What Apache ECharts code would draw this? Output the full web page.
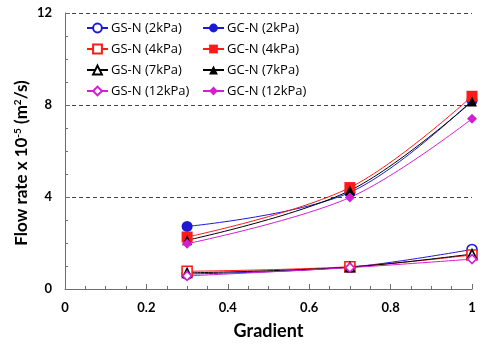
<!DOCTYPE html>
<html>
<head>
<meta charset="utf-8">
<script src="https://cdn.jsdelivr.net/npm/echarts@6/dist/echarts.min.js"></script>
<style>
  html, body { margin: 0; padding: 0; background: #fff; }
  #chart { width: 480px; height: 345px; }
</style>
</head>
<body>
<div id="chart"></div>
<script>
// Hydraulic gradient values
const gradients = [0.3, 0.7, 1.0];

// Flow rate (x10^-5 m^2/s), GS-N specimens
const gsN2 = [0.65, 0.95, 1.72];
const gsN4 = [0.77, 0.97, 1.48];
const gsN7 = [0.70, 0.95, 1.52];
const gsN12 = [0.57, 0.93, 1.30];

// Flow rate (x10^-5 m^2/s), GC-N specimens
const gcN2 = [2.72, 4.20, 8.20];
const gcN4 = [2.26, 4.41, 8.38];
const gcN7 = [2.12, 4.28, 8.15];
const gcN12 = [1.97, 3.98, 7.40];

const xTicks = [0, 0.2, 0.4, 0.6, 0.8, 1];
const yTicks = [0, 4, 8, 12];

const FONT = 'Lato';
const LEGEND_FONT = 'Open Sans';
const BLUE = '#1a1ad6', RED = '#ff1a1a', BLACK = '#000000', MAGENTA = '#d21fd2';

function pts(vals) { return gradients.map((g, i) => [g, vals[i]]); }

function mk(name, vals, color, symbol, hollow, size) {
  return {
    name: name,
    type: 'line',
    smooth: 0.35,
    data: pts(vals),
    symbol: symbol,
    symbolSize: size,
    showAllSymbol: true,
    lineStyle: { color: color, width: 1 },
    itemStyle: hollow
      ? { color: '#ffffff', borderColor: color, borderWidth: 1.6 }
      : { color: color, borderColor: color, borderWidth: 0 },
    emphasis: { disabled: true },
    z: 3
  };
}

const series = [
  mk('GS-N (2kPa)', gsN2, BLUE, 'circle', true, 10),
  mk('GS-N (4kPa)', gsN4, RED, 'rect', true, 10),
  mk('GS-N (7kPa)', gsN7, BLACK, 'triangle', true, 9),
  mk('GS-N (12kPa)', gsN12, MAGENTA, 'diamond', true, 9),
  mk('GC-N (2kPa)', gcN2, BLUE, 'circle', false, 11),
  mk('GC-N (4kPa)', gcN4, RED, 'rect', false, 11),
  mk('GC-N (7kPa)', gcN7, BLACK, 'triangle', false, 10),
  mk('GC-N (12kPa)', gcN12, MAGENTA, 'diamond', false, 10)
];

const legendBase = {
  orient: 'vertical',
  top: 16,
  itemWidth: 21,
  itemHeight: 11,
  itemGap: 7,
  selectedMode: false,
  textStyle: { fontFamily: LEGEND_FONT, fontSize: 13, lineHeight: 14, color: '#000', padding: [0, 0, 0, -2] }
};

const chart = echarts.init(document.getElementById('chart'), null, { renderer: 'canvas' });
chart.setOption({
  animation: false,
  backgroundColor: '#ffffff',
  grid: { left: 65, right: 8, top: 13, bottom: 53, containLabel: false },
  legend: [
    Object.assign({}, legendBase, { left: 81, data: series.slice(0, 4).map(s => s.name) }),
    Object.assign({}, legendBase, { left: 197, data: series.slice(4).map(s => s.name) })
  ],
  graphic: [{
    type: 'text',
    x: 22,
    y: 163,
    rotation: Math.PI / 2,
    silent: true,
    style: {
      text: 'Flow rate x 10{sup|-5} (m{sup|2}/s)',
      fontFamily: FONT, fontSize: 17, fontWeight: 'bold', fill: '#000',
      align: 'center', verticalAlign: 'middle',
      rich: {
        sup: { fontFamily: FONT, fontSize: 10, fontWeight: 'bold', fill: '#000', verticalAlign: 'top', padding: [0, 0, 9, 0] }
      }
    }
  }],
  xAxis: {
    type: 'value',
    min: 0, max: 1, interval: 0.2,
    name: 'Gradient',
    nameLocation: 'middle',
    nameGap: 33,
    nameTextStyle: { fontFamily: FONT, fontSize: 18, fontWeight: 'bold', color: '#000' },
    axisLine: { lineStyle: { color: '#6e6e6e', width: 1 } },
    axisTick: { inside: true, length: 5, lineStyle: { color: '#6e6e6e' } },
    minorTick: { show: true, splitNumber: 4, length: 3, lineStyle: { color: '#6e6e6e' } },
    splitLine: { show: false },
    axisLabel: {
      margin: 12,
      fontFamily: FONT, fontSize: 13, fontWeight: 'bold', color: '#000',
      formatter: v => {
        const t = xTicks.find(k => Math.abs(k - v) < 1e-9);
        return t === undefined ? '' : String(t);
      }
    }
  },
  yAxis: {
    type: 'value',
    min: 0, max: 12, interval: 4,
    axisLine: { show: true, lineStyle: { color: '#6e6e6e', width: 1 } },
    axisTick: { show: true, inside: true, length: 5, lineStyle: { color: '#6e6e6e' } },
    minorTick: { show: true, splitNumber: 4, length: 3, lineStyle: { color: '#6e6e6e' } },
    splitLine: { show: true, lineStyle: { color: '#444', type: [4, 3], width: 1 } },
    axisLabel: {
      margin: 13,
      fontFamily: FONT, fontSize: 13, fontWeight: 'bold', color: '#000',
      formatter: v => {
        const t = yTicks.find(k => Math.abs(k - v) < 1e-9);
        return t === undefined ? '' : String(t);
      }
    }
  },
  series: series
});
</script>
</body>
</html>
